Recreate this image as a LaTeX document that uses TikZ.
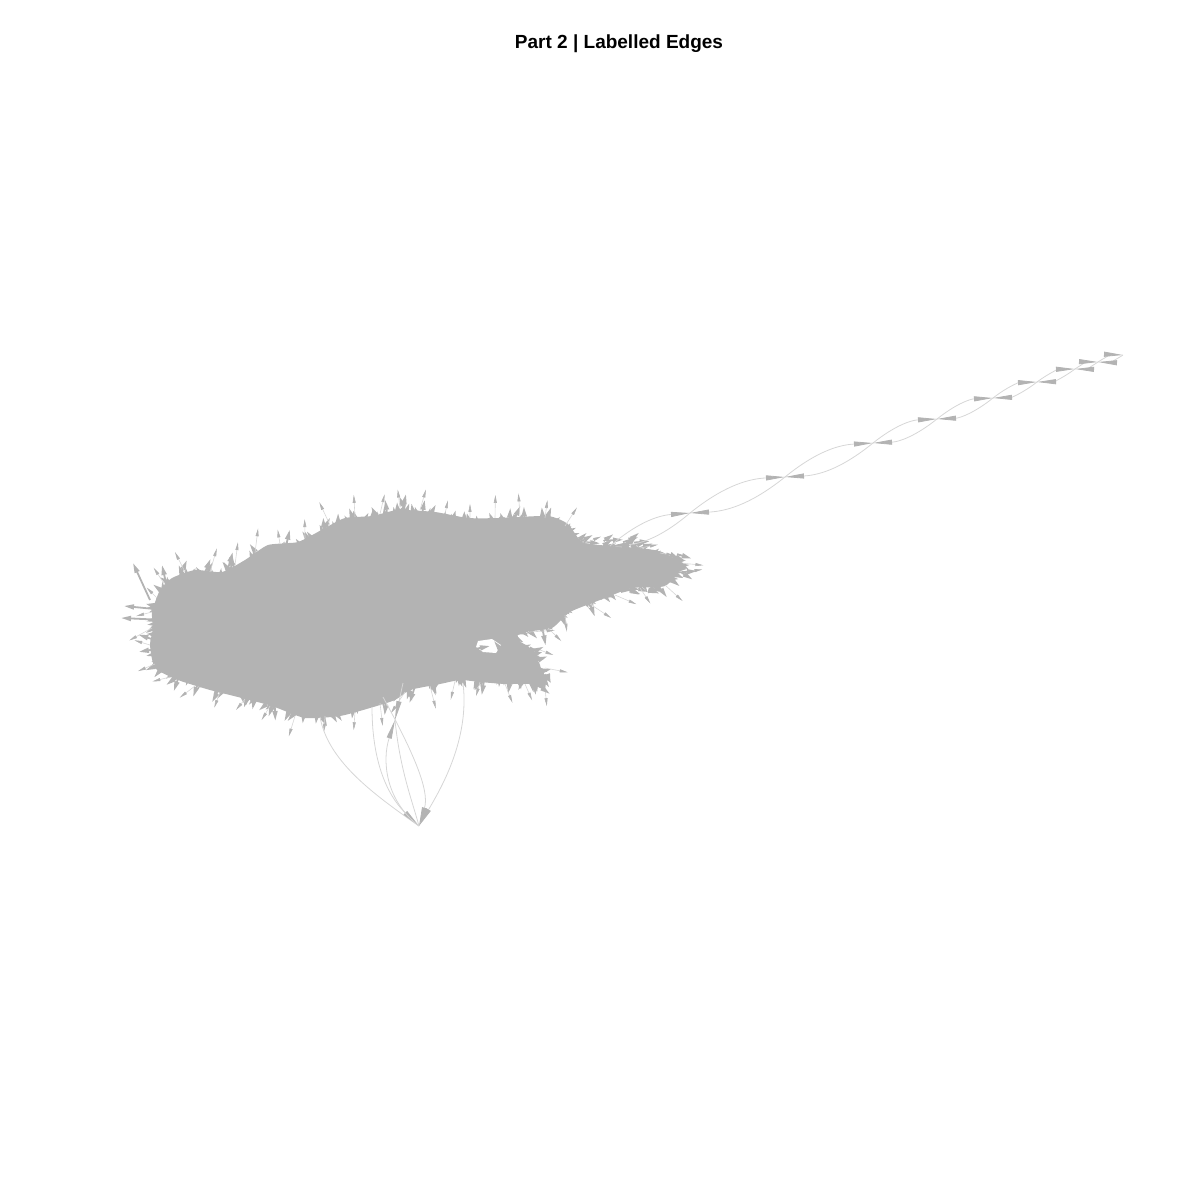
\documentclass[tikz,border=0pt]{standalone}
\usepackage{fontspec}
\newfontfamily\titlefont{Liberation Sans}
\usetikzlibrary{arrows.meta}
\definecolor{blobgray}{RGB}{179,179,179}
\definecolor{edgegray}{RGB}{214,214,214}

\begin{document}
\begin{tikzpicture}[
    x=1pt, y=-1pt,
    link/.style={draw=edgegray, line width=0.8pt, -{Triangle[length=19pt,width=5pt,color=blobgray]}},
    plainlink/.style={draw=edgegray, line width=0.8pt},
    spike/.style={draw=blobgray, line width=1.8pt, -{Triangle[length=10pt,width=5pt,color=blobgray]}},
    thinspike/.style={draw=edgegray, line width=0.6pt, -{Triangle[length=8pt,width=3pt,color=blobgray]}}
]
\useasboundingbox (0,0) rectangle (1200,1200);
\pgfmathsetseed{17}

% title
\node[anchor=base, font=\titlefont\bfseries\fontsize{19}{23}\selectfont] (title) at (619,48) {Part 2 | Labelled Edges};

% the dense cluster
\fill[blobgray] plot[smooth cycle, tension=0.35] coordinates {
  (152,612) (160,590) (172,578) (195,570) (222,572) (245,560) (268,545)
  (298,542) (325,528) (345,518) (372,516) (398,510) (435,512) (468,518)
  (500,518) (548,516) (568,524) (582,542) (610,546) (640,548) (662,552)
  (682,566) (665,586) (632,588) (600,600) (570,612) (552,628) (525,632)
  (515,638) (530,648) (540,665) (543,688) (530,684) (505,684) (480,682)
  (460,680) (440,684) (410,690) (395,700) (370,708) (340,716) (305,718)
  (272,706) (242,698) (210,690) (178,680) (155,668) (150,645) (153,628)};

% fringe of edges around the cluster
\foreach \x/\y/\a in {
  165/585/-120, 185/572/-100, 210/572/-95, 235/565/-100, 255/553/-110,
  280/544/-95, 305/538/-100, 330/525/-95, 355/517/-90, 380/514/-95,
  400/508/-80, 420/510/-90, 445/514/-85, 470/518/-80, 495/518/-90,
  520/517/-80, 545/518/-60, 565/526/-40, 585/543/-30, 615/546/-20,
  640/548/-10, 660/553/-15, 680/563/0, 685/572/10, 665/585/20,
  640/588/30, 615/595/40, 590/604/50, 565/615/60, 548/628/45,
  530/632/20, 540/650/0, 545/668/10, 545/688/60, 525/684/90,
  505/684/90, 480/682/95, 455/681/90, 430/686/95, 405/692/95,
  380/703/90, 355/712/95, 325/716/90, 295/716/100, 270/706/110,
  245/699/100, 220/692/110, 195/686/120, 170/677/140, 155/664/160,
  150/645/180, 152/628/180, 152/612/190, 157/598/200}{
  \foreach \k in {1,...,12}{
    \pgfmathsetmacro\ang{\a+rand*35}
    \pgfmathsetmacro\len{4+rnd*13}
    \pgfmathsetmacro\sx{\x+rand*9-10*cos(\a)}
    \pgfmathsetmacro\sy{\y+rand*9-10*sin(\a)}
    \draw[spike] (\sx,\sy) -- ++(\ang:\len);
  }
  \pgfmathsetmacro\ang{\a+rand*30}
  \pgfmathsetmacro\len{14+rnd*12}
  \draw[thinspike] (\x,\y) -- ++(\ang:\len);
}
\draw[spike] (150,600) -- (133,563);
\draw[spike] (168,592) -- (162,565);
\draw[spike] (400,522) -- (406,494);
\draw[spike] (165,620) -- (121,618);
\draw[spike] (165,610) -- (124,606);
\draw[spike] (645,575) -- (697,571);
\draw[spike] (635,568) -- (690,565);
\draw[spike] (515,668) -- (550,694);
\draw[spike] (505,660) -- (548,672);

% small gap in the lower lobe
\fill[white] (478,641) -- (492,639) -- (501,645) -- (496,653) -- (483,652) -- (476,647) -- cycle;
\draw[spike] (470,650) -- (490,646);
\draw[spike] (505,655) -- (494,641);

% chain of vertices to the upper right
\coordinate (c0) at (610,546);
\coordinate (c1) at (690,513);
\coordinate (c2) at (785,477);
\coordinate (c3) at (873,443);
\coordinate (c4) at (937,419);
\coordinate (c5) at (993,398);
\coordinate (c6) at (1037,382);
\coordinate (c7) at (1075,369);
\coordinate (c8) at (1098,362);
\coordinate (c9) at (1123,355);
\foreach \i [evaluate=\i as \j using int(\i+1)] in {0,...,8}{
  \draw[link] (c\i) to[bend left=18] (c\j);
  \draw[link] (c\j) to[bend left=18] (c\i);
}

% vertex below the cluster
\coordinate (bot) at (419,826);
\coordinate (v1) at (320,717);
\coordinate (v2) at (372,707);
\coordinate (v3) at (395,720);
\coordinate (v4) at (383,697);
\coordinate (v5) at (463,683);
\coordinate (v6) at (403,683);
\draw[plainlink] (v1) .. controls (328,760) and (370,792) .. (bot);
\draw[link] (v2) .. controls (372,770) and (392,800) .. (bot);
\draw[link] (v4) .. controls (412,750) and (430,790) .. (bot);
\draw[link] (v5) .. controls (470,740) and (440,790) .. (bot);
\draw[link] (v6) -- (v3);
\draw[link] (bot) .. controls (385,800) and (382,760) .. (v3);
\draw[plainlink] (v3) .. controls (400,770) and (412,800) .. (bot);
\end{tikzpicture}
\end{document}
